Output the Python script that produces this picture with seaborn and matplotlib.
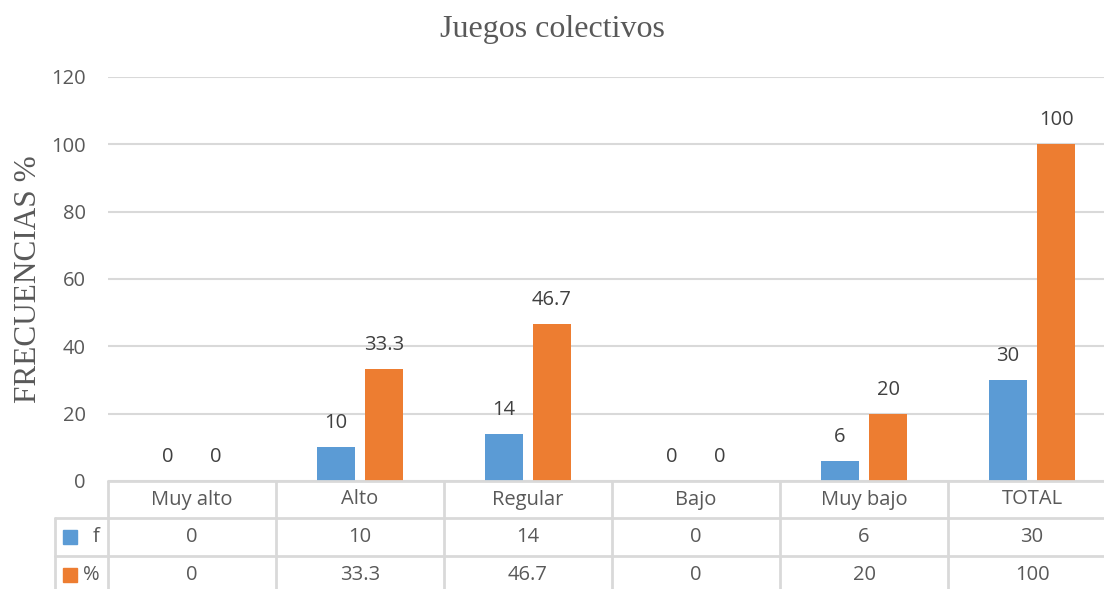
import pandas as pd
import numpy as np
import matplotlib
matplotlib.use('Agg')
import matplotlib.pyplot as plt
import matplotlib.transforms as mtransforms
import seaborn as sns

# Data
categorias = ['Muy alto', 'Alto', 'Regular', 'Bajo', 'Muy bajo', 'TOTAL']
f_vals = [0, 10, 14, 0, 6, 30]
pct_vals = [0, 33.3, 46.7, 0, 20, 100]
series = ['f', '%']
f_labels = ['0', '10', '14', '0', '6', '30']
pct_labels = ['0', '33.3', '46.7', '0', '20', '100']

AZUL = '#5B9BD5'
NARANJA = '#ED7D31'
GRIS = '#D9D9D9'
TEXTO = '#595959'
FS = 14.5

df = pd.DataFrame({
    'categoria': categorias * 2,
    'serie': [series[0]] * len(categorias) + [series[1]] * len(categorias),
    'valor': f_vals + pct_vals,
})

sns.set_theme(style='white')
plt.rcParams['font.family'] = ['Open Sans', 'DejaVu Sans']

fig = plt.figure(figsize=(11.04, 5.89), dpi=100)
# plot area runs a little past the right edge, as in the original
ax = fig.add_axes([108 / 1104, 1 - 481 / 589, (1116 - 108) / 1104, (481 - 77) / 589])

sns.barplot(data=df, x='categoria', y='valor', hue='serie', order=categorias,
            palette=[AZUL, NARANJA], width=0.572, gap=0.22, saturation=1,
            linewidth=0, legend=False, ax=ax)

for cont, labs in zip(ax.containers, [f_labels, pct_labels]):
    ax.bar_label(cont, labels=labs, padding=10, fontsize=FS, color='#404040')

ax.set_ylim(0, 120)
ax.set_xlim(-0.5, len(categorias) - 0.5)
ax.set_yticks(range(0, 121, 20))
ax.yaxis.grid(True, color=GRIS, linewidth=1.5)
ax.set_axisbelow(True)
ax.tick_params(axis='y', length=0, pad=16, labelsize=FS, labelcolor=TEXTO)
ax.set_xticks([])
ax.set_xlabel('')
ax.set_ylabel('FRECUENCIAS %', family='Liberation Serif', fontsize=22.5,
              color=TEXTO, labelpad=6)
for s in ax.spines.values():
    s.set_visible(False)

fig.suptitle('Juegos colectivos', family='Liberation Serif', fontsize=23,
             color=TEXTO, y=0.975)

# data table below the plot
trans = mtransforms.blended_transform_factory(ax.transData, fig.transFigure)
n = len(categorias)
y_top = 1 - 481 / 589
y_r1 = 1 - 518 / 589
y_r2 = 1 - 556 / 589
x_left = -0.5 - (108 - 55) / 168
x_right = n - 0.5
kw = dict(color=GRIS, linewidth=2, transform=trans, clip_on=False)
ax.plot([-0.5, x_right], [y_top, y_top], **kw)
ax.plot([x_left, x_right], [y_r1, y_r1], **kw)
ax.plot([x_left, x_right], [y_r2, y_r2], **kw)
ax.plot([x_left, x_left], [y_r1, 0], **kw)
for b in np.arange(-0.5, n - 0.5, 1.0):
    ax.plot([b, b], [y_top, 0], **kw)

y_head = (y_top + y_r1) / 2
y_f = (y_r1 + y_r2) / 2
y_p = (y_r2 + 2 * y_r2 - y_r1) / 2
for i, cat in enumerate(categorias):
    ax.text(i, y_head, cat, transform=trans, ha='center', va='center',
            fontsize=FS, color=TEXTO)
    ax.text(i, y_f, f_labels[i], transform=trans, ha='center', va='center',
            fontsize=FS, color=TEXTO)
    ax.text(i, y_p, pct_labels[i], transform=trans, ha='center', va='center',
            fontsize=FS, color=TEXTO)

# legend keys inside the table
for y, lab, col in [(y_f, series[0], AZUL), (y_p, series[1], NARANJA)]:
    ax.plot([x_left + 15 / 168], [y], marker='s', markersize=10, color=col,
            transform=trans, clip_on=False, linestyle='none')
    ax.text(-0.5 - 8 / 168, y, lab, transform=trans, ha='right', va='center',
            fontsize=FS, color=TEXTO)

fig.savefig('out.png', dpi=100)
